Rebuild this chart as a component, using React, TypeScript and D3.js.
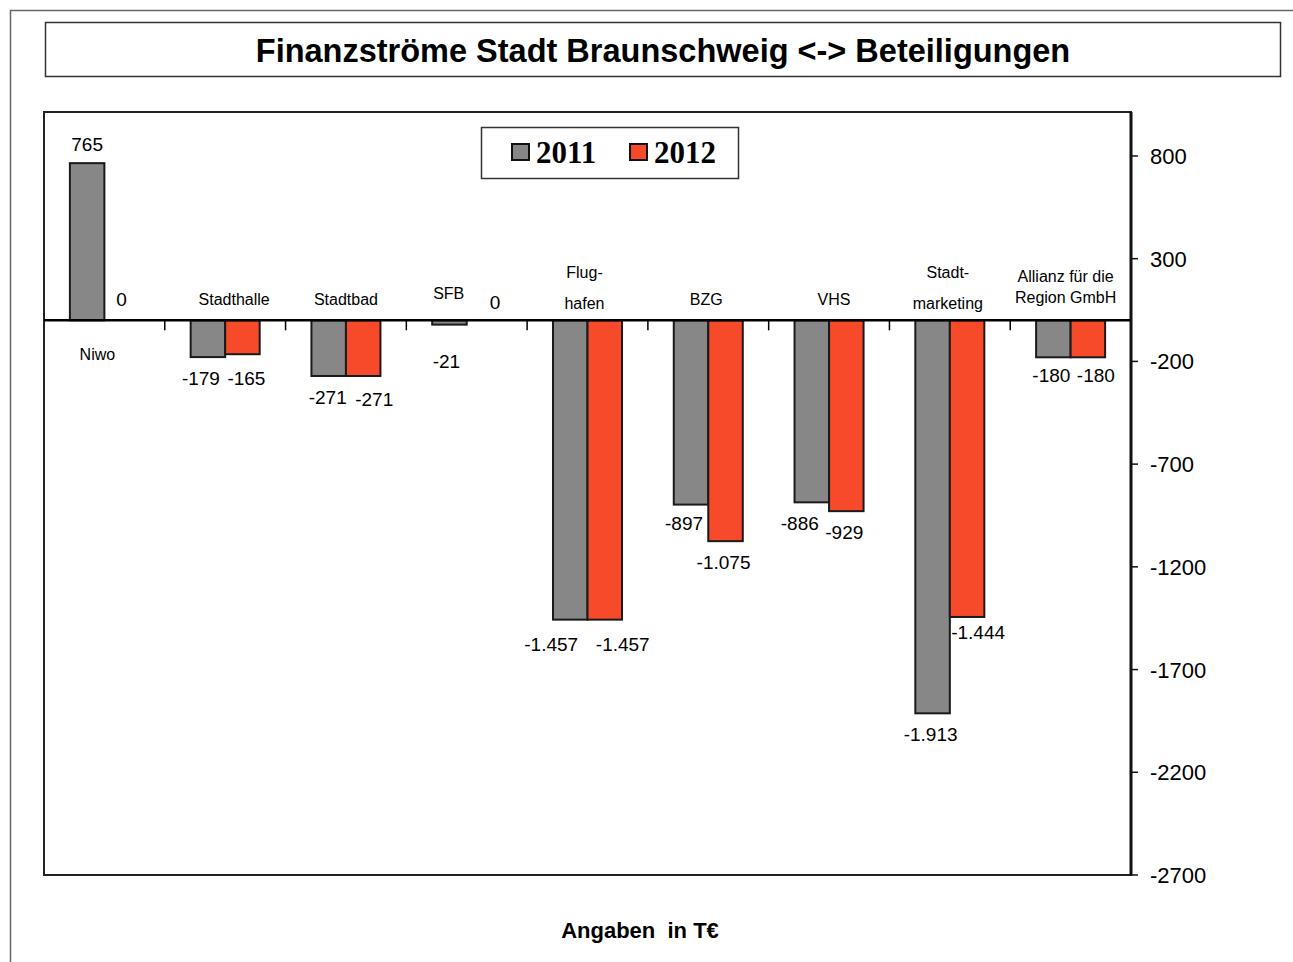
import React from "react";
import * as d3 from "d3";

const categories = ["Niwo", "Stadthalle", "Stadtbad", "SFB", "Flughafen", "BZG", "VHS", "Stadtmarketing", "Allianz"];
const categoryLabels: string[][] = [
  ["Niwo"],
  ["Stadthalle"],
  ["Stadtbad"],
  ["SFB"],
  ["Flug-", "hafen"],
  ["BZG"],
  ["VHS"],
  ["Stadt-", "marketing"],
  ["Allianz für die", "Region GmbH"],
];
const years = ["2011", "2012"];
const values2011 = [765, -179, -271, -21, -1457, -897, -886, -1913, -180];
const values2012 = [0, -165, -271, 0, -1457, -1075, -929, -1444, -180];
const yTicks = [800, 300, -200, -700, -1200, -1700, -2200, -2700];

const title = "Finanzströme Stadt Braunschweig <-> Beteiligungen";
const footer = "Angaben\u00A0\u00A0in T€";

// layout / style (not data)
const W = 1293;
const H = 962;
const plot = { left: 44, right: 1131, top: 112, bottom: 875 };
const colors: Record<string, string> = { "2011": "#878787", "2012": "#F64A2B" };
const catDx = [-7, 9, 0, -18, -3, -2, 5, -2, -5];
const valOffsets2011: [number, number][] = [[0, -12], [-7, 28], [-1, 28], [-3, 43], [-19, 31], [-7, 25], [-12, 28], [-2, 28], [-2, 25]];
const valOffsets2012: [number, number][] = [[0, -14], [4, 31], [11, 30], [11, -11], [18, 31], [-2, 28], [-2, 28], [11, 22], [8, 25]];

const de = d3.formatLocale({ decimal: ",", thousands: ".", grouping: [3], currency: ["", " €"], minus: "-" });
const fmt = de.format(",d");

export default function App() {
  const y = d3.scaleLinear().domain([-2700, 1014]).range([plot.bottom, plot.top]);
  const x0 = d3.scaleBand<string>().domain(categories).range([plot.left, plot.right]).paddingInner(0).paddingOuter(0);
  const x1 = d3.scaleBand<string>().domain(years).range([0, x0.bandwidth()]).paddingInner(0).paddingOuter(0.75);
  const zero = y(0);
  const series = [values2011, values2012];
  const offs = [valOffsets2011, valOffsets2012];
  const font = "'Liberation Sans', Arial, sans-serif";

  return (
    <svg width={W} height={H} style={{ position: "absolute", left: 0, top: 0, background: "#fff" }} fontFamily={font}>
      <path d={`M10.5,${H} L10.5,10.5 L${W},10.5`} fill="none" stroke="#666" strokeWidth={1.5} />
      <rect x={45.5} y={22.5} width={1235} height={54} fill="#fff" stroke="#333" strokeWidth={1.5} />
      <text x={663} y={62} textAnchor="middle" fontSize={32.5} fontWeight="bold" fill="#000">{title}</text>

      <rect x={plot.left} y={plot.top} width={plot.right - plot.left} height={plot.bottom - plot.top} fill="#fff" stroke="#222" strokeWidth={2} />

      {categories.map((c, i) =>
        years.map((yr, s) => {
          const v = series[s][i];
          const bx = (x0(c) as number) + (x1(yr) as number);
          const bw = x1.bandwidth();
          const top = Math.min(y(v), zero);
          const h = Math.abs(y(v) - zero);
          return (
            <rect key={c + yr} x={bx} y={top} width={bw} height={Math.max(h, 0.01)} fill={colors[yr]} stroke={v === 0 ? colors[yr] : "#1a1a1a"} strokeWidth={v === 0 ? 1 : 2} />
          );
        })
      )}

      <line x1={plot.left} x2={plot.right} y1={zero} y2={zero} stroke="#000" strokeWidth={2.5} />
      {categories.slice(1).map((c) => (
        <line key={"t" + c} x1={x0(c)} x2={x0(c)} y1={zero} y2={zero + 10} stroke="#000" strokeWidth={1.5} />
      ))}

      <line x1={plot.right} x2={plot.right} y1={plot.top} y2={plot.bottom} stroke="#111" strokeWidth={3} />
      {yTicks.map((t) => (
        <g key={"y" + t}>
          <line x1={plot.right} x2={plot.right + 7} y1={y(t)} y2={y(t)} stroke="#111" strokeWidth={1.5} />
          <text x={1150} y={y(t) + 8} fontSize={22} fill="#000">{t}</text>
        </g>
      ))}

      {categories.map((c, i) => {
        const cx = (x0(c) as number) + x0.bandwidth() / 2 + catDx[i];
        const lines = categoryLabels[i];
        const positive = values2011[i] > 0;
        let baseY: number;
        let gap: number;
        if (positive) {
          baseY = zero + 40;
          gap = 20;
        } else if (lines.length === 1) {
          baseY = zero - (c === "SFB" ? 21 : 15);
          gap = 0;
        } else if (c === "Allianz") {
          baseY = zero - 38;
          gap = 21;
        } else {
          baseY = zero - 42;
          gap = 31;
        }
        return (
          <text key={"c" + c} x={cx} y={baseY} textAnchor="middle" fontSize={16} fill="#000">
            {lines.map((l, k) => (
              <tspan key={k} x={cx} y={baseY + k * gap}>{l}</tspan>
            ))}
          </text>
        );
      })}

      {categories.map((c, i) =>
        years.map((yr, s) => {
          const v = series[s][i];
          const cx = (x0(c) as number) + (x1(yr) as number) + x1.bandwidth() / 2;
          const [dx, dy] = offs[s][i];
          const ly = v === 0 ? zero + dy : y(v) + dy;
          return (
            <text key={"v" + c + yr} x={cx + dx} y={ly} textAnchor="middle" fontSize={19} fill="#000">{fmt(v)}</text>
          );
        })
      )}

      <rect x={481.5} y={127.5} width={257} height={51} fill="#fff" stroke="#333" strokeWidth={1.5} />
      {years.map((yr, s) => (
        <g key={"l" + yr} transform={`translate(${512 + s * 118},0)`}>
          <rect x={0} y={144} width={17} height={16} fill={colors[yr]} stroke="#111" strokeWidth={2} />
          <text x={24} y={163} fontFamily="'Liberation Serif', 'Times New Roman', serif" fontWeight="bold" fontSize={31} fill="#000">{yr}</text>
        </g>
      ))}

      <text x={640} y={938} textAnchor="middle" fontSize={22} fontWeight="bold" fill="#000">{footer}</text>
    </svg>
  );
}
